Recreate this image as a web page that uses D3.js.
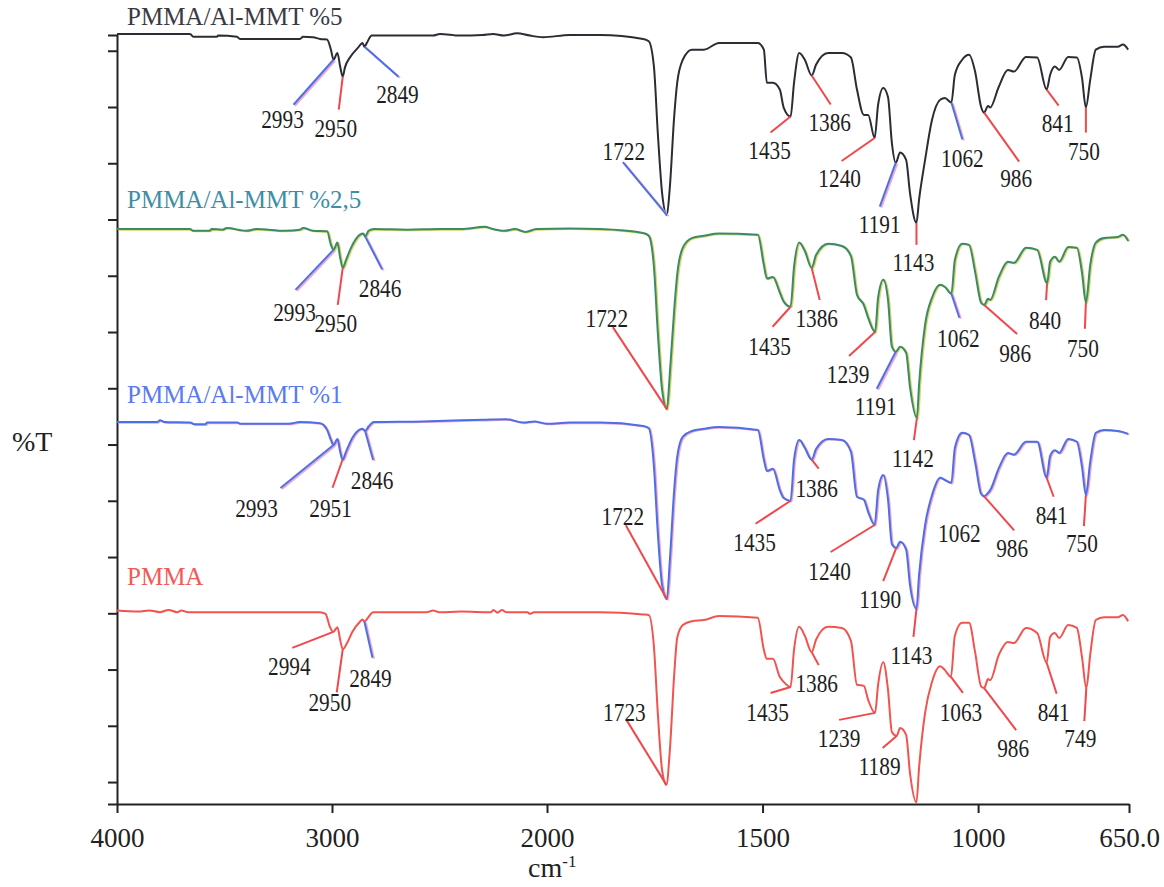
<!DOCTYPE html>
<html>
<head>
<meta charset="utf-8">
<script src="https://cdn.jsdelivr.net/npm/d3@7"></script>
<style>
  body { margin: 0; background: #fff; }
  svg { display: block; }
  text { font-family: "Liberation Serif", "Times New Roman", serif; }
</style>
</head>
<body>
<div id="grafico"></div>
<script>
// Espectros FTIR: [número de onda (cm-1), %T en unidades del eje]
const pmmaMmt5 = [[4000,13.30],[3814,13.30],[3660,13.30],[3645,13.25],[3535,13.25],[3530,13.27],[3442,13.25],[3428,13.21],[3149,13.21],[3135,13.25],[3088,13.24],[3056,13.21],[3023,13.20],[3005,13.02],[2993,12.84],[2975,12.96],[2962,12.72],[2950,12.54],[2940,12.70],[2915,12.89],[2880,13.05],[2858,13.14],[2849,13.07],[2838,13.14],[2815,13.27],[2530,13.27],[2498,13.30],[2405,13.27],[2300,13.28],[2251,13.30],[2200,13.27],[2140,13.31],[2080,13.27],[2019,13.24],[1947,13.28],[1877,13.28],
  [1777,13.21],[1764,13.17],[1752,12.72],[1743,11.54],[1733,10.47],[1722,10.08],[1715,10.58],[1705,11.83],[1698,12.43],[1685,12.84],[1664,13.02],[1636,13.02],[1601,13.14],[1511,13.14],[1497,13.02],[1490,12.43],[1476,12.43],[1460,12.31],[1451,11.99],[1435,11.83],[1427,12.43],[1415,12.96],[1402,12.84],[1386,12.56],[1376,12.75],[1348,12.96],[1316,12.96],[1295,12.88],[1281,12.31],[1265,11.86],[1255,11.86],[1240,11.45],[1232,12.04],[1220,12.34],[1209,12.18],[1200,11.36],[1191,11.01],[1181,11.19],[1167,11.06],[1158,10.47],[1143,9.94],[1137,10.35],[1123,11.06],[1107,11.77],[1088,12.13],[1077,12.16],[1062,12.08],[1054,12.57],[1037,12.84],[1021,12.93],[1007,12.63],[993,12.00],[986,11.90],[977,12.02],[972,11.99],[952,12.36],[931,12.66],[917,12.63],[889,12.89],[863,12.88],[841,12.31],[833,12.57],[822,12.72],[812,12.66],[791,12.89],[771,12.88],[759,12.52],[750,11.99],[740,12.48],[727,13.02],[708,13.07],[676,13.07],[664,13.11],[652,13.02]];

const pmmaMmt25 = [[4000,9.83],[3660,9.83],[3647,9.80],[3570,9.80],[3560,9.83],[3510,9.82],[3490,9.85],[3400,9.80],[3350,9.83],[3220,9.80],[3149,9.82],[3135,9.85],[3088,9.80],[3023,9.79],[3005,9.55],[2993,9.46],[2975,9.59],[2962,9.32],[2950,9.14],[2935,9.28],[2910,9.51],[2870,9.73],[2855,9.75],[2846,9.70],[2830,9.80],[2805,9.83],[2650,9.82],[2500,9.83],[2400,9.83],[2290,9.87],[2250,9.83],[2200,9.80],[2150,9.83],[2100,9.78],[2050,9.83],[1947,9.84],[1877,9.83],
  [1777,9.76],[1764,9.71],[1752,9.16],[1743,7.99],[1733,6.97],[1722,6.63],[1715,7.27],[1705,8.39],[1698,9.02],[1685,9.50],[1664,9.67],[1636,9.71],[1601,9.75],[1511,9.73],[1497,9.19],[1490,8.95],[1476,8.98],[1460,8.70],[1451,8.54],[1435,8.45],[1427,9.16],[1415,9.59],[1402,9.44],[1386,9.14],[1376,9.37],[1348,9.57],[1316,9.53],[1295,9.35],[1281,8.66],[1265,8.48],[1255,8.25],[1239,8.00],[1232,8.61],[1220,8.93],[1209,8.57],[1200,7.74],[1191,7.65],[1181,7.74],[1167,7.63],[1158,7.02],[1142,6.47],[1137,7.06],[1123,8.13],[1107,8.61],[1088,8.84],[1077,8.80],[1062,8.68],[1054,9.28],[1037,9.57],[1021,9.55],[1007,9.07],[993,8.52],[986,8.48],[977,8.59],[972,8.57],[952,8.98],[931,9.25],[917,9.23],[889,9.50],[863,9.46],[840,8.87],[833,9.25],[822,9.34],[812,9.25],[791,9.51],[771,9.50],[759,9.05],[750,8.52],[740,9.19],[727,9.59],[708,9.67],[676,9.69],[664,9.73],[652,9.62]];

const pmmaMmt1 = [[4000,6.40],[3814,6.40],[3800,6.43],[3780,6.40],[3660,6.39],[3640,6.36],[3590,6.36],[3580,6.39],[3440,6.39],[3428,6.37],[3200,6.37],[3150,6.40],[3056,6.38],[3023,6.26],[3005,6.08],[2993,5.99],[2975,6.10],[2962,5.87],[2951,5.73],[2935,5.87],[2905,6.12],[2870,6.27],[2858,6.28],[2846,6.24],[2830,6.32],[2805,6.40],[2580,6.41],[2400,6.43],[2300,6.44],[2190,6.45],[2110,6.39],[2060,6.41],[2000,6.37],[1947,6.39],[1877,6.39],
  [1777,6.33],[1764,6.29],[1752,5.61],[1743,4.43],[1733,3.50],[1722,3.25],[1715,3.95],[1705,5.19],[1698,5.78],[1685,6.14],[1664,6.24],[1636,6.28],[1601,6.31],[1511,6.26],[1497,5.73],[1490,5.53],[1476,5.57],[1460,5.19],[1451,5.05],[1435,5.00],[1427,5.73],[1415,6.08],[1402,5.94],[1386,5.73],[1376,5.92],[1348,6.10],[1316,6.08],[1295,5.87],[1281,5.07],[1265,5.02],[1255,4.80],[1240,4.57],[1232,5.19],[1220,5.46],[1209,5.02],[1200,4.23],[1190,4.16],[1181,4.27],[1167,4.13],[1158,3.50],[1143,3.08],[1137,3.68],[1123,4.57],[1107,5.10],[1088,5.41],[1077,5.37],[1062,5.32],[1054,5.94],[1037,6.21],[1021,6.17],[1007,5.69],[993,5.12],[986,5.08],[977,5.14],[972,5.19],[952,5.58],[931,5.85],[917,5.82],[889,6.05],[863,6.05],[841,5.41],[833,5.80],[822,5.90],[812,5.85],[791,6.10],[771,6.05],[759,5.60],[750,5.10],[740,5.69],[727,6.21],[708,6.26],[676,6.24],[664,6.22],[652,6.19]];

const pmma = [[4000,3.05],[3900,3.03],[3850,3.05],[3800,3.02],[3760,3.06],[3720,3.02],[3700,3.05],[3670,3.02],[3400,3.02],[3056,3.02],[3030,2.99],[3010,2.76],[2994,2.67],[2975,2.75],[2962,2.53],[2950,2.36],[2930,2.47],[2905,2.67],[2870,2.85],[2858,2.89],[2849,2.85],[2835,2.91],[2808,3.02],[2560,3.02],[2530,3.05],[2500,3.02],[2400,3.03],[2260,3.02],[2250,3.06],[2230,3.01],[2210,3.06],[2190,3.02],[2090,3.02],[2080,2.99],[2060,3.02],[1947,3.02],[1877,3.02],
  [1777,2.98],[1764,2.97],[1752,2.41],[1743,1.23],[1733,0.21],[1723,-0.05],[1715,0.57],[1705,1.90],[1698,2.56],[1685,2.79],[1664,2.86],[1636,2.88],[1601,2.95],[1511,2.92],[1497,2.35],[1490,2.19],[1476,2.19],[1460,1.87],[1451,1.78],[1435,1.69],[1427,2.35],[1415,2.76],[1402,2.60],[1386,2.31],[1376,2.53],[1348,2.76],[1316,2.74],[1295,2.51],[1281,1.73],[1265,1.71],[1255,1.46],[1239,1.23],[1232,1.73],[1220,2.13],[1209,1.64],[1200,0.89],[1189,0.82],[1181,0.96],[1167,0.84],[1158,0.16],[1143,-0.36],[1137,0.25],[1123,1.23],[1107,1.78],[1088,2.06],[1077,1.99],[1063,1.87],[1054,2.60],[1037,2.83],[1021,2.83],[1007,2.31],[993,1.70],[986,1.67],[977,1.83],[972,1.81],[952,2.26],[931,2.49],[917,2.47],[889,2.74],[863,2.65],[841,2.12],[833,2.58],[822,2.65],[812,2.56],[791,2.79],[771,2.74],[759,2.22],[749,1.67],[740,2.26],[727,2.88],[708,2.93],[676,2.93],[664,2.97],[652,2.86]];

// Picos marcados en cada espectro
const peaks5  = [2993, 2950, 2849, 1722, 1435, 1386, 1240, 1191, 1143, 1062, 986, 841, 750];
const peaks25 = [2993, 2950, 2846, 1722, 1435, 1386, 1239, 1191, 1142, 1062, 986, 840, 750];
const peaks1  = [2993, 2951, 2846, 1722, 1435, 1386, 1240, 1190, 1143, 1062, 986, 841, 750];
const peaksP  = [2994, 2950, 2849, 1723, 1435, 1386, 1239, 1189, 1063, 986, 841, 749];

const names = ['PMMA/Al-MMT %5', 'PMMA/Al-MMT %2,5', 'PMMA/Al-MMT %1', 'PMMA'];
const xTicks = [4000, 3000, 2000, 1500, 1000, 650];

// Guías de las etiquetas: [fin dx, fin dy, texto dx, texto dy, color]
const lead5 = [[-40,45,-51,59,'b'],[-4,33,-7,51,'r'],[34,30,33,47,'b'],[-44,-53,-43,-64,'b'],[-20,16,-21,33,'r'],[19,29,18,46,'r'],[-33,23,-35,40,'r'],[-16,44,-16,61,'b'],[0,22,-3,39,'r'],[11,37,11,55,'b'],[35,49,32,65,'r'],[12,16,11,33,'r'],[0,25,-2,43,'r']];
const lead25 = [[-38,40,-39,62,'b'],[-5,37,-7,55,'r'],[17,33,15,52,'b'],[-54,-82,-60,-91,'r'],[-18,20,-21,39,'r'],[8,32,5,50,'r'],[-26,24,-27,42,'r'],[-19,37,-20,54,'b'],[-3,22,-4,40,'r'],[8,24,7,44,'b'],[33,29,31,48,'r'],[-1,17,-2,37,'r'],[-1,26,-3,45,'r']];
const lead1 = [[-53,43,-77,63,'b'],[-10,28,-12,48,'r'],[8,29,7,49,'b'],[-41,-74,-44,-83,'r'],[-35,23,-36,41,'r'],[7,9,5,28,'r'],[-44,27,-45,46,'r'],[-13,33,-16,51,'r'],[-3,28,-5,46,'r'],[0,0,8,50,null],[30,34,28,52,'r'],[7,19,5,37,'r'],[-2,31,-4,48,'r']];
const leadP = [[-41,16,-44,34,'r'],[-6,43,-13,53,'r'],[8,36,6,56,'b'],[-40,-65,-42,-73,'r'],[-20,6,-23,25,'r'],[7,13,5,31,'r'],[-36,7,-36,25,'r'],[-14,12,-17,30,'r'],[12,16,10,35,'r'],[32,42,29,60,'r'],[10,31,7,49,'r'],[-2,33,-6,50,'r']];

const width = 1164;
const height = 887;

const svg = d3.select('#grafico')
  .append('svg')
  .attr('width', width)
  .attr('height', height);

// Escala x por tramos (el tramo bajo 2000 cm-1 va ampliado)
const x = d3.scaleLinear()
  .domain([4000, 2000, 650])
  .range([117, 547, 1129]);

const y = d3.scaleLinear()
  .domain([-0.39, 13.28])
  .range([804, 35]);

const series = [
  { name: names[0], data: pmmaMmt5, peaks: peaks5, lead: lead5, color: '#2c2c34', under: null, labelColor: '#3a3a44', labelY: 25 },
  { name: names[1], data: pmmaMmt25, peaks: peaks25, lead: lead25, color: '#3b8a68', under: '#d9d66a', labelColor: '#3d8ea6', labelY: 208 },
  { name: names[2], data: pmmaMmt1, peaks: peaks1, lead: lead1, color: '#4b6fe8', under: '#f2a6cc', labelColor: '#5a7af0', labelY: 403 },
  { name: names[3], data: pmma, peaks: peaksP, lead: leadP, color: '#f2534e', under: null, labelColor: '#f25a58', labelY: 585 }
];

const line = d3.line()
  .x(d => x(d[0]))
  .y(d => y(d[1]))
  .curve(d3.curveMonotoneX);

// valor interpolado del espectro en un número de onda
function valueAt(data, wn) {
  for (let i = 0; i < data.length - 1; i++) {
    const a = data[i], b = data[i + 1];
    if (wn <= a[0] && wn >= b[0]) {
      const t = (a[0] - wn) / (a[0] - b[0]);
      return a[1] + t * (b[1] - a[1]);
    }
  }
  return data[data.length - 1][1];
}

// Ejes
const axisY = svg.append('g')
  .attr('transform', 'translate(117,0)')
  .call(d3.axisLeft(y).tickValues(d3.range(0, 14)).tickSize(9).tickSizeOuter(9).tickFormat(''));

const axisX = svg.append('g')
  .attr('transform', 'translate(0,804)')
  .call(d3.axisBottom(x).tickValues(xTicks).tickSize(9).tickSizeOuter(0).tickPadding(15)
    .tickFormat(d => d === 650 ? '650.0' : d));

svg.selectAll('.domain, .tick line')
  .attr('stroke', '#222')
  .attr('stroke-width', 2);

axisX.selectAll('text')
  .attr('font-family', '"Liberation Serif", serif')
  .attr('font-size', 27)
  .attr('fill', '#222');

// Espectros
series.forEach(s => {
  if (s.under) {
    svg.append('path')
      .datum(s.data)
      .attr('d', line)
      .attr('transform', 'translate(1.2,0.6)')
      .attr('fill', 'none')
      .attr('stroke', s.under)
      .attr('stroke-width', 2);
  }
  svg.append('path')
    .datum(s.data)
    .attr('d', line)
    .attr('fill', 'none')
    .attr('stroke', s.color)
    .attr('stroke-width', 2)
    .attr('stroke-linejoin', 'round');

  svg.append('text')
    .attr('x', 127)
    .attr('y', s.labelY)
    .attr('font-size', 25)
    .attr('fill', s.labelColor)
    .text(s.name);
});

// Etiquetas de picos con sus guías
series.forEach(s => {
  s.peaks.forEach((p, i) => {
    const [ldx, ldy, tdx, tdy, c] = s.lead[i];
    const px = x(p);
    const py = y(valueAt(s.data, p));
    if (c === 'b') {
      svg.append('line')
        .attr('x1', px + 1.5).attr('y1', py + 1)
        .attr('x2', px + ldx + 1.5).attr('y2', py + ldy + 1)
        .attr('stroke', '#f2a8d0').attr('stroke-width', 2);
      svg.append('line')
        .attr('x1', px).attr('y1', py)
        .attr('x2', px + ldx).attr('y2', py + ldy)
        .attr('stroke', '#4a72e6').attr('stroke-width', 2);
    } else if (c === 'r') {
      svg.append('line')
        .attr('x1', px).attr('y1', py)
        .attr('x2', px + ldx).attr('y2', py + ldy)
        .attr('stroke', '#f2474a').attr('stroke-width', 2);
    }
    svg.append('g')
      .attr('transform', `translate(${px + tdx},${py + tdy}) scale(0.82,1)`)
      .append('text')
      .attr('text-anchor', 'middle')
      .attr('dy', '0.35em')
      .attr('font-size', 26)
      .attr('fill', '#1e1e22')
      .text(p);
  });
});

// Títulos de los ejes
svg.append('text')
  .attr('x', 12)
  .attr('y', 451)
  .attr('font-size', 28)
  .attr('fill', '#222')
  .text('%T');

const xt = svg.append('text')
  .attr('x', 528)
  .attr('y', 877)
  .attr('font-size', 28)
  .attr('fill', '#222');
xt.append('tspan').text('cm');
xt.append('tspan').attr('dy', -10).attr('font-size', 17).text('-1');
</script>
</body>
</html>
